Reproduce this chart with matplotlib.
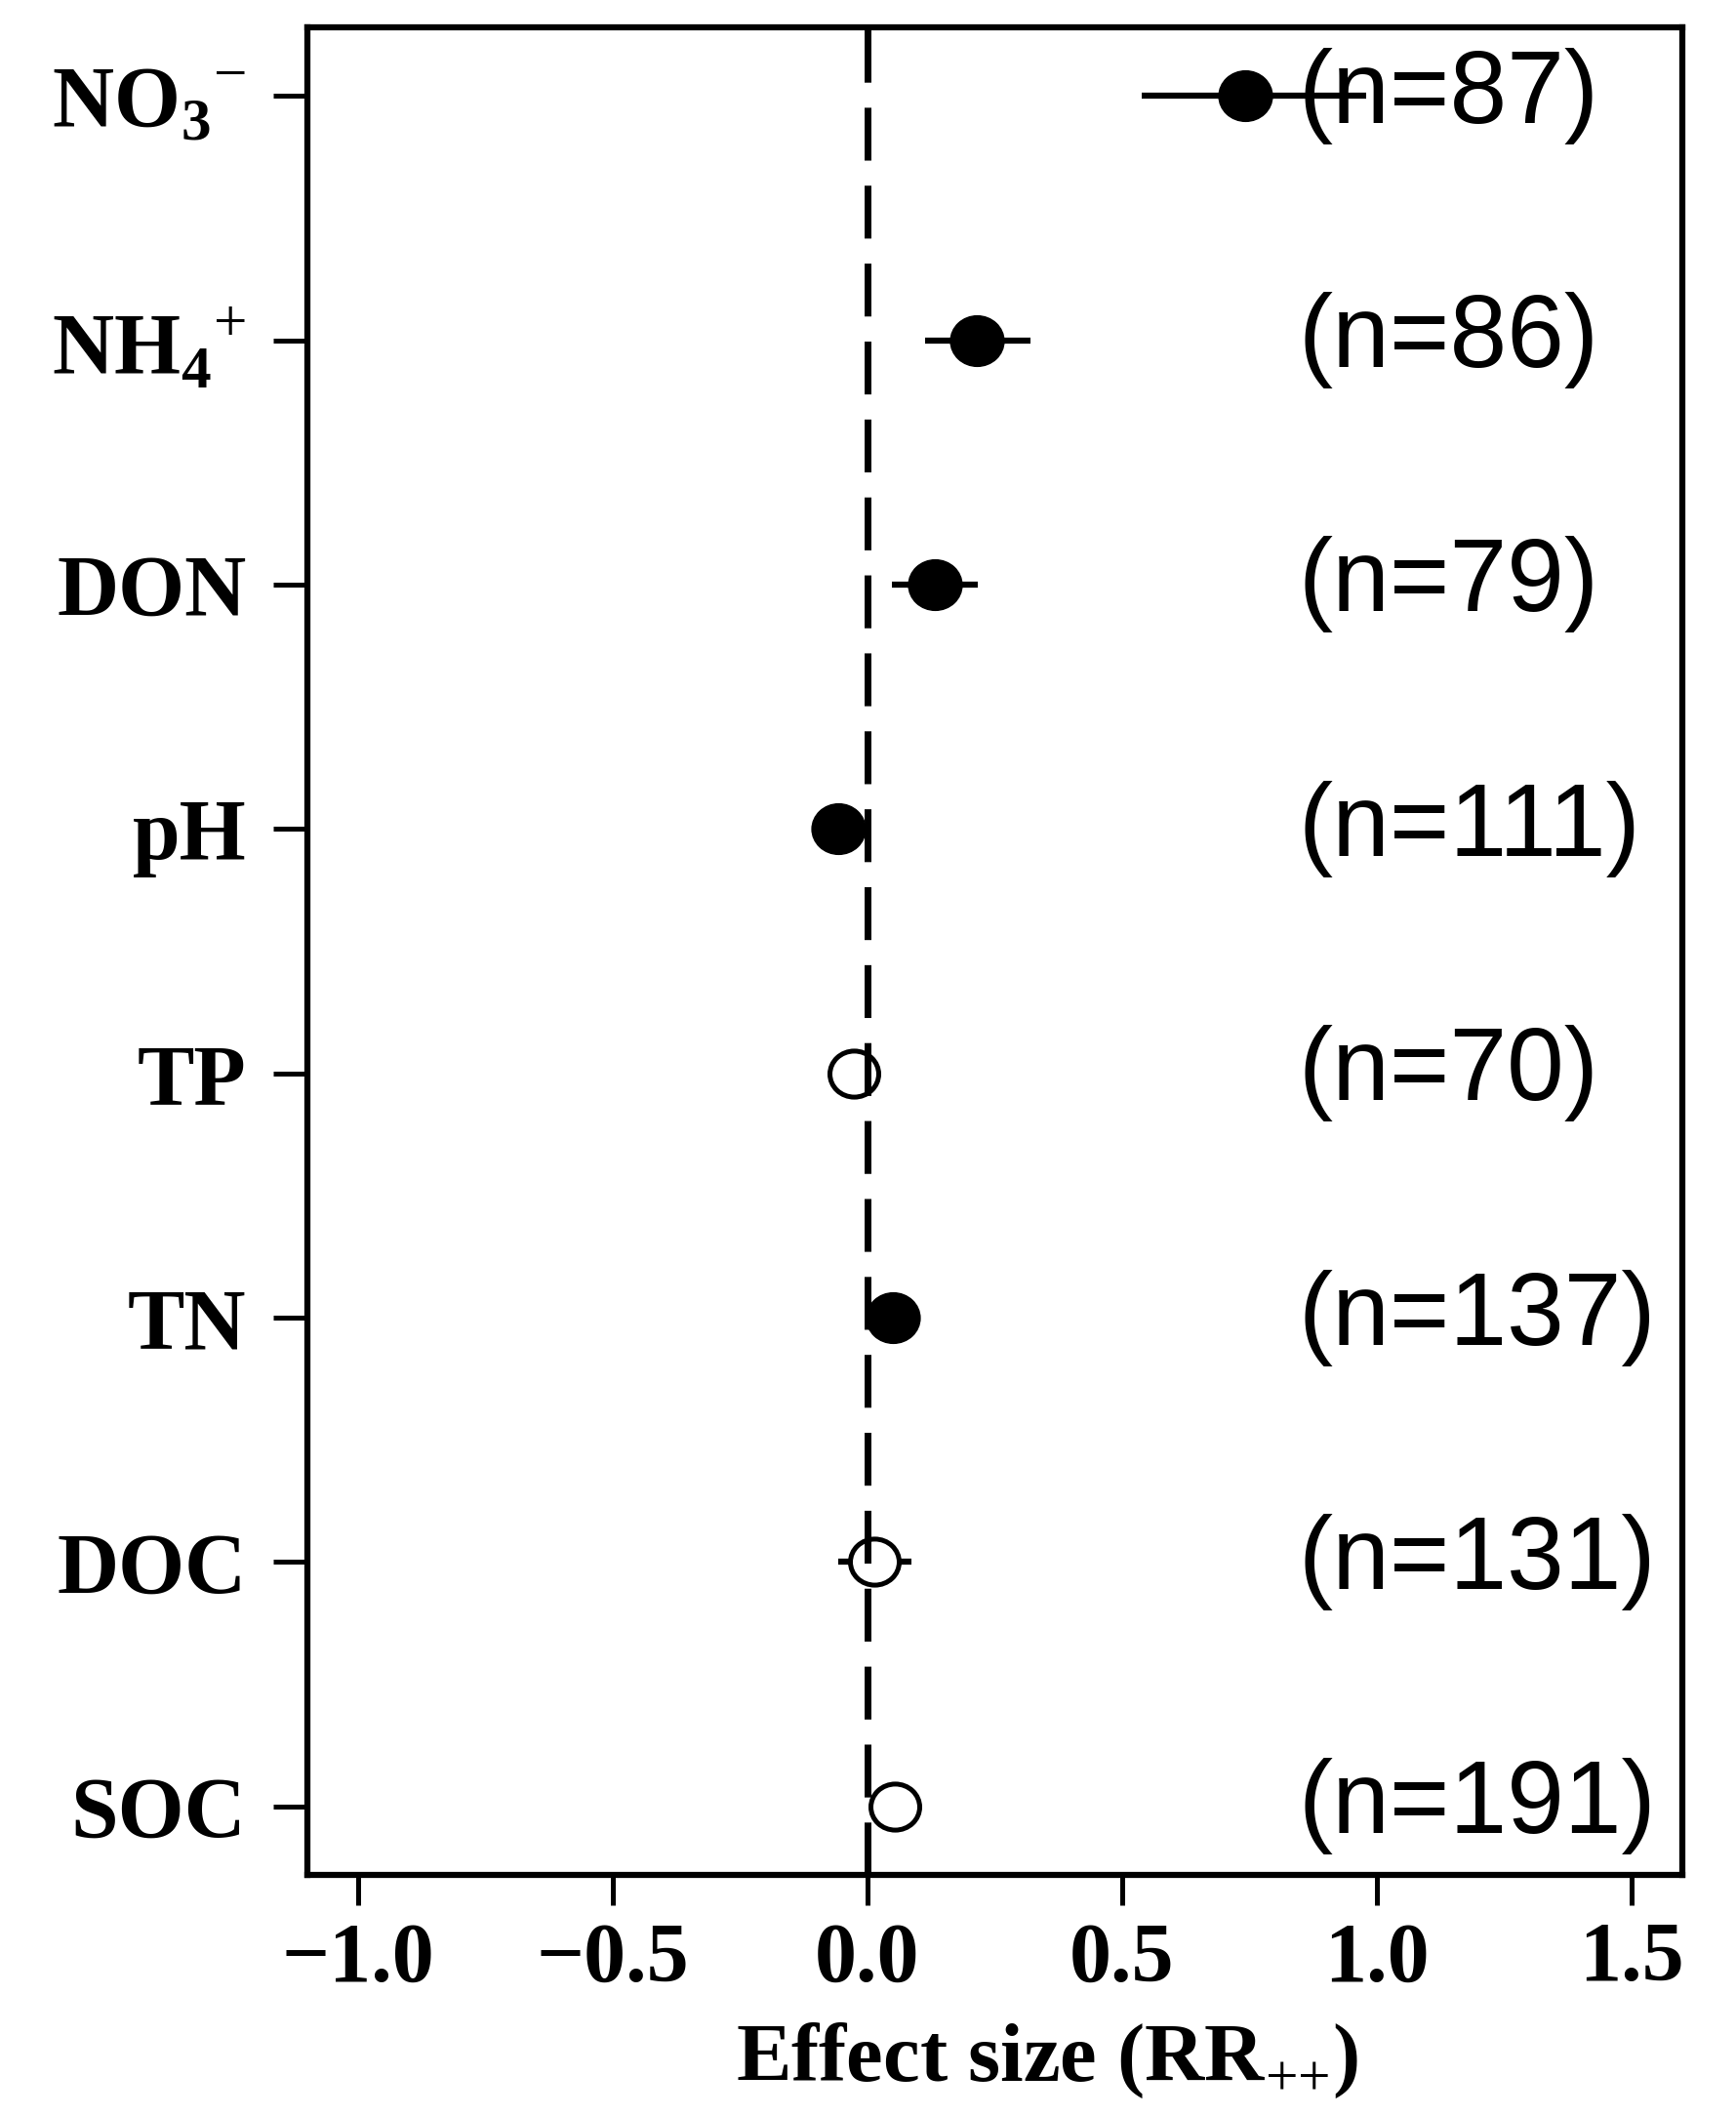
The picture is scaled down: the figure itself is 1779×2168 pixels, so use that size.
import numpy as np
import matplotlib
matplotlib.use("Agg")
import matplotlib.pyplot as plt
from matplotlib.path import Path
from matplotlib.transforms import Affine2D

plt.rcParams['mathtext.fontset'] = 'custom'
plt.rcParams['mathtext.rm'] = 'Liberation Serif'
plt.rcParams['mathtext.bf'] = 'Liberation Serif:bold'

# data (top to bottom)
labels = [r'NO$_{\mathbf{3}}{}^{-}$', r'NH$_{\mathbf{4}}{}^{+}$', 'DON', 'pH', 'TP', 'TN', 'DOC', 'SOC']
mean = [0.742, 0.215, 0.132, -0.058, -0.026, 0.050, 0.013, 0.053]
ci_low = [0.538, 0.114, 0.048, -0.075, -0.040, 0.035, -0.058, 0.035]
ci_high = [0.980, 0.320, 0.217, -0.040, -0.012, 0.065, 0.087, 0.075]
n_obs = [87, 86, 79, 111, 70, 137, 131, 191]
significant = [True, True, True, True, False, True, False, False]
xticks = [-1.0, -0.5, 0.0, 0.5, 1.0, 1.5]

ypos = np.arange(len(labels), 0, -1)

# R points are a touch wider than tall in the original
ellipse = Path.unit_circle().transformed(Affine2D().scale(1.06, 1.0))

fig = plt.figure(figsize=(17.79, 21.68), dpi=100)
ax = fig.add_axes([0.177, 0.114, 0.792, 0.873])

ax.hlines(ypos, ci_low, ci_high, color='black', lw=4.5, zorder=1)

for y, m, sig in zip(ypos, mean, significant):
    if sig:
        ax.plot(m, y, marker=ellipse, ms=39.5, color='black', mec='black', zorder=2)
    else:
        ax.plot(m, y, marker=ellipse, ms=36, mfc='white', mec='black', mew=3.6, zorder=2)

ax.axvline(0, color='black', lw=5, linestyle=(0, (7.8, 3.7)), zorder=3)

for y, n in zip(ypos, n_obs):
    ax.text(0.847, y, '(n=%d)' % n, fontsize=76, family='Liberation Sans',
            va='center', ha='left', zorder=4)

ax.set_xlim(-1.1, 1.6)
ax.set_ylim(0.72, 8.28)
ax.set_xticks(xticks)
ax.set_xticklabels(['%.1f' % v if v >= 0 else '\u2212%.1f' % abs(v) for v in xticks])
ax.set_yticks(ypos)
ax.set_yticklabels(labels)

for lab in ax.get_xticklabels() + ax.get_yticklabels():
    lab.set_family('Liberation Serif')
    lab.set_fontweight('bold')
ax.tick_params(axis='x', labelsize=62, length=22, width=3.6, pad=13, direction='out')
ax.tick_params(axis='y', labelsize=63, length=25, width=3.6, pad=20, direction='out')

for sp in ax.spines.values():
    sp.set_linewidth(4.5)

ax.set_xlabel(r'Effect size (RR$_{\mathrm{{+}{+}}}$)', fontsize=61, family='Liberation Serif',
              fontweight='bold')
ax.xaxis.set_label_coords(0.538, -0.079)

fig.savefig('out.png', dpi=100)
